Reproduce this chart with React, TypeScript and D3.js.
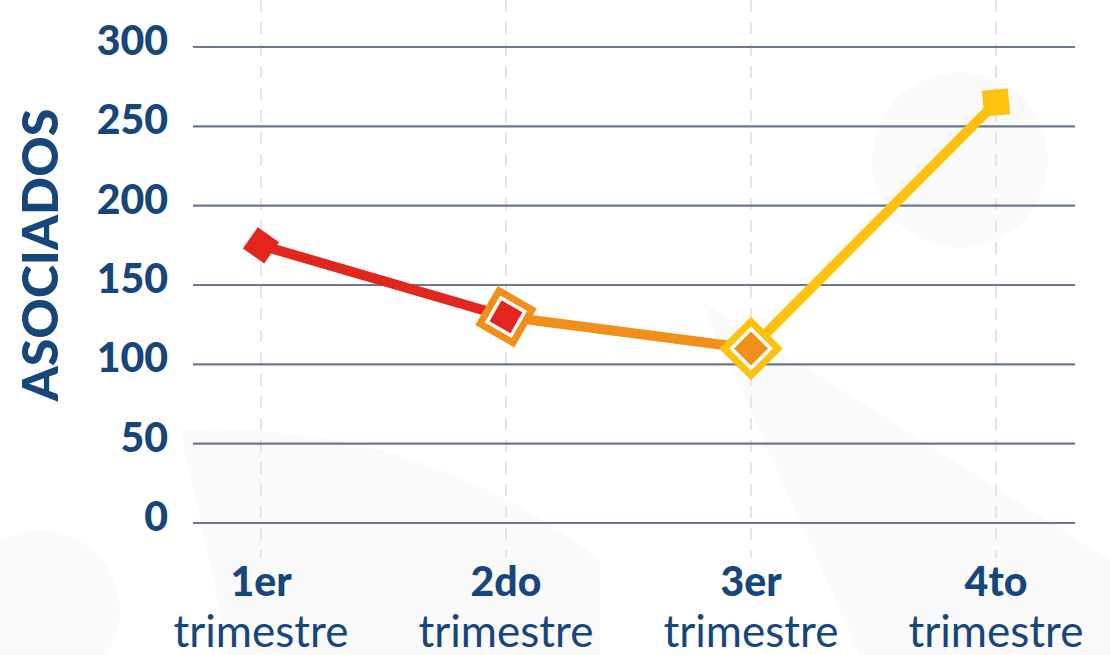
import * as d3 from "d3";

const quarters = ["1er", "2do", "3er", "4to"];
const associates = [175, 130, 110, 265];
const yTicks = [0, 50, 100, 150, 200, 250, 300];
const segmentColors = ["#e2261d", "#f0901a", "#fcc20d"];
const markerFill = ["#e2261d", "#e2261d", "#f0901a", "#fcc20d"];
const markerRing = ["", "#f0901a", "#fcc20d", ""];
const markerAngle = [35, 30, 45, -5];

const width = 1110;
const height = 655;
const blue = "#17467a";

export default function App() {
  const x = d3.scalePoint<string>().domain(quarters).range([261, 996]);
  const y = d3.scaleLinear().domain([0, 300]).range([523, 47]);

  const pts = associates.map((v, i) => [x(quarters[i])!, y(v)] as [number, number]);
  const line = d3.line();

  return (
    <svg
      width={width}
      height={height}
      style={{ position: "absolute", left: 0, top: 0, background: "#fff" }}
      fontFamily="Lato, 'Open Sans', sans-serif"
    >
      {/* faint background shapes */}
      <g fill="#fafafb">
        <circle cx={960} cy={160} r={88} />
        <circle cx={40} cy={610} r={80} />
        <path d="M180,430 Q420,420 600,560 L600,655 L230,655 Z" />
        <path d="M700,300 L860,655 L1110,655 L1110,560 Z" />
      </g>

      {/* vertical dashed guides */}
      <g stroke="#ebe3dc" strokeWidth={2} strokeDasharray="12 10">
        {quarters.map((q) => (
          <line key={q} x1={x(q)} x2={x(q)} y1={0} y2={558} />
        ))}
      </g>

      {/* horizontal grid */}
      <g stroke="#6d7693" strokeWidth={2.2}>
        {yTicks.map((t) => (
          <line key={t} x1={193} x2={1075} y1={y(t)} y2={y(t)} />
        ))}
      </g>

      {/* y tick labels */}
      <g fill={blue} fontSize={41} fontWeight={900} textAnchor="end">
        {yTicks.map((t) => (
          <text key={t} x={168} y={y(t) + 8}>
            {t}
          </text>
        ))}
      </g>

      <text
        transform={`translate(58,255) rotate(-90)`}
        textAnchor="middle"
        fill={blue}
        fontSize={50}
        fontWeight={900}
      >
        ASOCIADOS
      </text>

      {/* x labels */}
      <g fill={blue} textAnchor="middle">
        {quarters.map((q) => (
          <g key={q}>
            <text x={x(q)} y={596} fontSize={41} fontWeight={900}>
              {q}
            </text>
            <text x={x(q)} y={647} fontSize={44} fontWeight={400}>
              trimestre
            </text>
          </g>
        ))}
      </g>

      {/* line segments */}
      {segmentColors.map((c, i) => (
        <path
          key={c}
          d={line([pts[i], pts[i + 1]])!}
          stroke={c}
          strokeWidth={10}
          fill="none"
        />
      ))}

      {/* markers */}
      {pts.map(([px, py], i) => (
        <g key={i} transform={`translate(${px},${py}) rotate(${markerAngle[i]})`}>
          {markerRing[i] && (
            <rect x={-19} y={-19} width={38} height={38} fill="#fff" stroke={markerRing[i]} strokeWidth={7} />
          )}
          <rect
            x={markerRing[i] ? -12 : -13}
            y={markerRing[i] ? -12 : -13}
            width={markerRing[i] ? 24 : 26}
            height={markerRing[i] ? 24 : 26}
            fill={markerFill[i]}
          />
        </g>
      ))}
    </svg>
  );
}
